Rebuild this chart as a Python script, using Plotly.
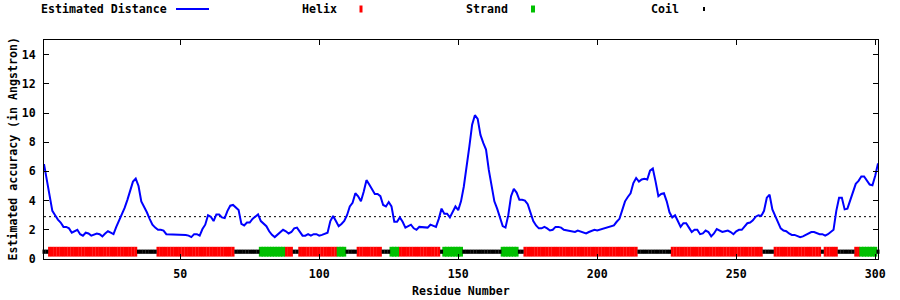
import plotly.graph_objects as go

# ---------------- data ----------------
residues = list(range(1, 302))

distance = [
    6.5, 5.4, 4.2, 3.3, 3.0, 2.7, 2.5, 2.2, 2.2, 2.1,
    1.8, 1.9, 2.0, 1.7, 1.6, 1.8, 1.75, 1.6, 1.7, 1.75,
    1.7, 1.55, 1.75, 1.9, 1.8, 1.7, 2.2, 2.6, 3.1, 3.5,
    4.05, 4.6, 5.3, 5.5, 5.0, 3.95, 3.6, 3.2, 2.75, 2.35,
    2.15, 2.0, 2.0, 1.95, 1.7, 1.7, 1.65, 1.65, 1.65, 1.65,
    1.65, 1.65, 1.6, 1.5, 1.7, 1.7, 1.6, 2.05, 2.35, 3.0,
    2.9, 2.6, 3.05, 3.05, 2.85, 2.8, 3.3, 3.65, 3.7, 3.55,
    3.35, 2.4, 2.3, 2.5, 2.5, 2.75, 2.9,
    3.05, 2.6, 2.4, 2.25, 1.9, 1.65, 1.5, 1.65, 1.8, 2.0,
    1.9, 1.75, 1.85, 2.1, 2.15, 1.9, 1.6, 1.6, 1.7, 1.6,
    1.7, 1.7, 1.6, 1.65, 1.75, 1.8, 2.6, 2.95, 2.6, 2.25,
    2.4, 2.6, 3.0, 3.6, 3.85, 4.5, 4.3, 3.95, 4.6, 5.4,
    5.1, 4.75, 4.45, 4.45, 4.3, 3.7, 3.6, 3.9, 3.6, 2.55,
    2.55, 2.85, 2.55, 2.15, 2.25, 2.35, 2.1, 2.0, 2.2, 2.2,
    2.15, 2.15, 2.35, 2.3, 2.2, 2.75, 3.45, 3.1, 3.1, 2.85,
    3.25, 3.6, 3.35, 3.95, 4.95,
    6.2, 7.7, 9.2, 9.85, 9.6, 8.5, 7.95, 7.5, 6.1, 5.1,
    3.95, 3.45, 2.8, 2.25, 2.15, 3.0, 4.3, 4.8, 4.55, 4.05,
    4.05, 4.0, 3.75, 3.1, 2.6, 2.3, 2.1, 2.1, 2.2, 2.1,
    1.95, 2.0, 2.2, 2.2, 2.15, 2.0, 1.95, 1.9, 1.85, 1.85,
    1.95, 1.9, 1.8, 1.75, 1.85, 1.95, 2.0, 1.95, 2.0, 2.05,
    2.15, 2.15, 2.2, 2.3, 2.55, 2.75, 3.35, 3.95, 4.25, 4.5,
    5.2, 5.55, 5.3, 5.45, 5.5, 5.45, 6.05, 6.2, 5.3, 4.3,
    4.45, 4.5, 3.95, 3.2, 2.85, 3.0,
    2.6, 2.2, 2.45, 2.45, 2.15, 1.85, 2.0, 2.0, 1.7, 1.75,
    1.95, 1.85, 1.55, 1.75, 2.05, 1.95, 1.85, 1.9, 1.95, 1.85,
    1.7, 1.9, 2.0, 2.0, 2.2, 2.45, 2.5, 2.65, 2.9, 3.0,
    2.95, 3.3, 4.2, 4.4, 3.4, 3.0, 2.6, 2.1, 1.95, 1.9,
    1.75, 1.65, 1.65, 1.6, 1.5, 1.55, 1.65, 1.8, 1.85, 1.85,
    1.75, 1.7, 1.7, 1.6, 1.7, 1.85, 2.0, 3.3, 4.2, 4.2,
    3.4, 3.45, 4.0, 4.55, 5.15, 5.35, 5.65, 5.65, 5.4, 5.1,
    5.05, 5.7, 6.55,
]

# secondary structure per residue as runs: H helix, E strand, C coil
ss_runs = [
    ("C", 2), ("H", 32), ("C", 7), ("H", 28), ("C", 9), ("E", 9), ("H", 3),
    ("C", 2), ("H", 14), ("E", 3), ("C", 4), ("H", 9), ("C", 3), ("E", 3),
    ("H", 15), ("C", 1), ("E", 7), ("C", 14), ("E", 6), ("C", 2), ("H", 41),
    ("C", 12), ("H", 33), ("C", 4), ("H", 17), ("C", 1), ("H", 5), ("C", 6),
    ("H", 2), ("E", 6), ("C", 1),
]

threshold = 2.9
track_level = 0.5
x_ticks = [50, 100, 150, 200, 250, 300]
y_ticks = [0, 2, 4, 6, 8, 10, 12, 14]
x_title = "Residue Number"
y_title = "Estimated accuracy (in Angstron)"
legend_labels = ["Estimated Distance", "Helix", "Strand", "Coil"]

# ---------------- build ----------------
ss = "".join(code * n for code, n in ss_runs)

def pick(code):
    return [r for r, s in zip(residues, ss) if s == code]

FONT = dict(family="DejaVu Sans Mono", size=11.6, color="black", weight="bold")
RED, GREEN, BLUE = "#ff0000", "#00c000", "#0000ff"

fig = go.Figure()

fig.add_trace(go.Scatter(
    x=[residues[0], residues[-1]], y=[threshold, threshold], mode="lines",
    line=dict(color="black", width=1, dash="2px,3px"), showlegend=False, hoverinfo="skip"))

fig.add_trace(go.Scatter(
    x=residues, y=distance, mode="lines", line=dict(color=BLUE, width=2),
    showlegend=False))

for code, color, lw, size in [("H", RED, 3, 7), ("E", GREEN, 4, 7), ("C", "black", 3, 3)]:
    xs = pick(code)
    fig.add_trace(go.Scatter(
        x=xs, y=[track_level] * len(xs), mode="markers", cliponaxis=False,
        marker=dict(symbol="line-ns", size=size, color=color,
                    line=dict(color=color, width=lw)),
        showlegend=False))

L, R, T, B, W, H = 44, 22, 40, 41, 900, 300
PW, PH = W - L - R, H - T - B

def px(x):
    return (x - L) / PW

def py(y):
    return (H - B - y) / PH

annotations = []
shapes = []

# legend (gnuplot style: text then sample)
leg_y = 9
leg_text_right = [169, 339, 510, 681]
for label, xr in zip(legend_labels, leg_text_right):
    annotations.append(dict(text=label, x=px(xr), y=py(leg_y), xref="paper", yref="paper",
                            xanchor="right", yanchor="middle", showarrow=False, font=FONT))
shapes.append(dict(type="line", xref="paper", yref="paper", x0=px(176), x1=px(209),
                   y0=py(leg_y), y1=py(leg_y), line=dict(color=BLUE, width=2)))
for xc, color, w, h in [(361, RED, 3, 7), (533, GREEN, 4, 7), (704, "black", 2, 4)]:
    shapes.append(dict(type="rect", xref="paper", yref="paper",
                       xsizemode="pixel", ysizemode="pixel",
                       xanchor=px(xc), yanchor=py(leg_y),
                       x0=-w / 2, x1=w / 2, y0=-h / 2, y1=h / 2,
                       fillcolor=color, line=dict(width=0)))

annotations.append(dict(text=x_title, x=0.5, y=py(291), xref="paper", yref="paper",
                        xanchor="center", yanchor="middle", showarrow=False, font=FONT))
annotations.append(dict(text=y_title, x=px(12), y=0.5, xref="paper", yref="paper",
                        xanchor="center", yanchor="middle", textangle=-90,
                        showarrow=False, font=FONT))

axis_common = dict(showgrid=False, zeroline=False, showline=True, linecolor="black",
                   linewidth=1, mirror="ticks", ticks="inside", ticklen=5,
                   tickcolor="black", tickwidth=1, tickfont=FONT)

fig.update_layout(
    width=W, height=H, margin=dict(l=L, r=R, t=T, b=B, pad=0),
    paper_bgcolor="white", plot_bgcolor="white", showlegend=False,
    xaxis=dict(range=[1, 301], tickvals=x_ticks, ticklabelstandoff=4, **axis_common),
    yaxis=dict(range=[0, 15], tickvals=y_ticks, ticklabelstandoff=5, **axis_common),
    annotations=annotations, shapes=shapes,
)

fig.write_html("out.html")
